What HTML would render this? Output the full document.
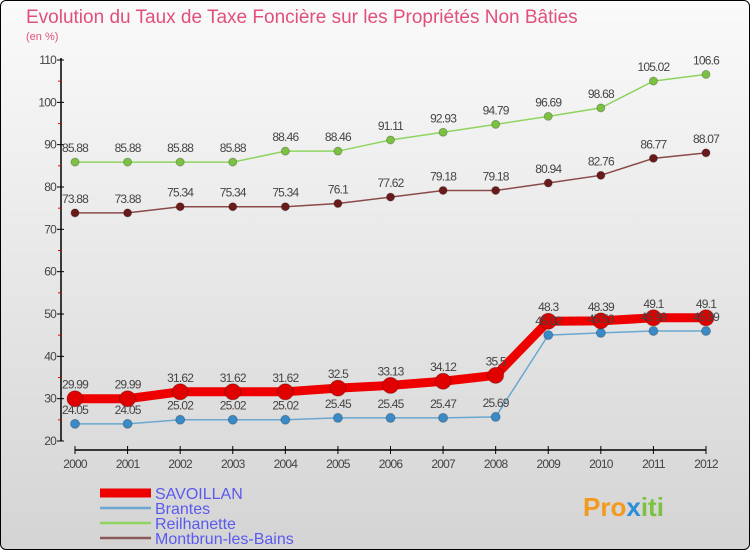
<!DOCTYPE html>
<html><head><meta charset="utf-8"><style>
body{margin:0;width:750px;height:550px;overflow:hidden;font-family:"Liberation Sans",sans-serif}
#wrap{position:absolute;left:0;top:0;width:748px;height:548px;border:1px solid #000;border-radius:6px;background:linear-gradient(#fafafa,#d4d4d4);overflow:hidden}
</style></head><body>
<div id="wrap">
<svg id="chart" width="750" height="550" style="position:absolute;left:-1px;top:-1px">
<text x="26" y="23" font-size="19" fill="#e0507a">Evolution du Taux de Taxe Foncière sur les Propriétés Non Bâties</text>
<text x="26" y="40" font-size="11" fill="#e0507a">(en %)</text>
<g id="axes"></g><g id="series"></g><g id="legend"></g>
<text x="583" y="516" font-size="26" font-weight="bold" fill="#f39a1e">Pro<tspan fill="#2a8fd8">x</tspan><tspan fill="#7cc242">iti</tspan></text>
</svg></div>
<script>
const years=["2000","2001","2002","2003","2004","2005","2006","2007","2008","2009","2010","2011","2012"];
const yTicks=[20,25,30,35,40,45,50,55,60,65,70,75,80,85,90,95,100,105,110];
const savoillan=[29.99,29.99,31.62,31.62,31.62,32.5,33.13,34.12,35.5,48.3,48.39,49.1,49.1];
const brantes=[24.05,24.05,25.02,25.02,25.02,25.45,25.45,25.47,25.69,45.02,45.53,45.99,45.99];
const reilhanette=[85.88,85.88,85.88,85.88,88.46,88.46,91.11,92.93,94.79,96.69,98.68,105.02,106.6];
const montbrun=[73.88,73.88,75.34,75.34,75.34,76.1,77.62,79.18,79.18,80.94,82.76,86.77,88.07];
const seriesNames=["SAVOILLAN","Brantes","Reilhanette","Montbrun-les-Bains"];
const NS="http://www.w3.org/2000/svg";
const X=i=>75+i*(706-75)/12;
const Y=v=>441-(v-20)*(441-60)/90;
function mk(t,a,p){const e=document.createElementNS(NS,t);for(const k in a)e.setAttribute(k,a[k]);p.appendChild(e);return e;}
const ax=document.getElementById('axes');
let yl=mk('line',{x1:61,x2:61,y1:58,y2:441,stroke:'#000','stroke-width':1.5},ax);

yTicks.forEach(v=>{
 const major=v%10===0;
 const t=mk('line',{x1:major?57:58,x2:major?64:61,y1:Y(v),y2:Y(v),stroke:major?'#000':'#e00','stroke-width':1},ax);
 
 if(major){const l=mk('text',{x:56,y:Y(v)+4,'font-size':12,fill:'#444','text-anchor':'end','letter-spacing':'-0.8'},ax);l.textContent=v;
 }
});
let xl=mk('line',{x1:75,x2:706,y1:450,y2:450,stroke:'#000','stroke-width':1.5},ax);

years.forEach((y,i)=>{
 const t=mk('line',{x1:X(i),x2:X(i),y1:446,y2:454,stroke:'#000'},ax);
 
 const l=mk('text',{x:X(i),y:468,'font-size':12,fill:'#444','text-anchor':'middle','letter-spacing':'-0.8'},ax);l.textContent=y;
 
});
const sg=document.getElementById('series');
const defs=[
 {d:reilhanette,c:'#8fd460',f:'#7cc242',w:1.5,r:4,n:'reilhanette'},
 {d:montbrun,c:'#8a4a4a',f:'#6a1a1a',w:1.5,r:4,n:'montbrun'},
 {d:brantes,c:'#6aa8d0',f:'#3a8ac8',w:1.5,r:4.5,n:'brantes'},
 {d:savoillan,c:'#ee0000',f:'#e00000',w:9,r:8,n:'savoillan'}];
defs.forEach(s=>{
 const p=mk('polyline',{points:s.d.map((v,i)=>X(i)+','+Y(v)).join(' '),fill:'none',stroke:s.c,'stroke-width':s.w},sg);
 
 s.d.forEach((v,i)=>{
  const c=mk('circle',{cx:X(i),cy:Y(v),r:s.r,fill:s.f,stroke:'rgba(0,0,0,0.25)'},sg);
  
 });
});
defs.forEach(s=>{s.d.forEach((v,i)=>{
  const t=mk('text',{x:X(i),y:Y(v)-10,'font-size':12,fill:'#444','text-anchor':'middle','letter-spacing':'-0.8'},sg);t.textContent=v;
  
});});
const lg=document.getElementById('legend');
const lc=[['#ee0000',9],['#6aa8d0',2.5],['#8fd460',2.5],['#8a5a5a',2.5]];
seriesNames.forEach((n,i)=>{
 const y=493+i*15;
 const l=mk('line',{x1:100,x2:151,y1:y,y2:y,stroke:lc[i][0],'stroke-width':lc[i][1]},lg);
 
 const t=mk('text',{x:155,y:y+6,'font-size':16,fill:'#5a5aee'},lg);t.textContent=n;
 
});
</script></body></html>
